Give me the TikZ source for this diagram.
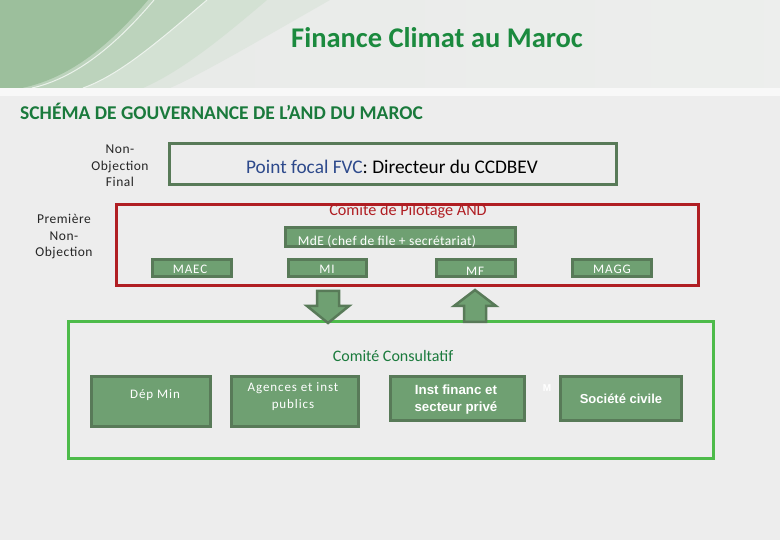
\documentclass[tikz,border=0pt]{standalone}
\usepackage{fontspec}
\setmainfont{Carlito}
\newfontfamily\arialf{Liberation Sans}
\definecolor{bgc}{HTML}{EDEDED}
\definecolor{hdr}{HTML}{E8EAE8}
\definecolor{arcA}{HTML}{9CBF9C}
\definecolor{arcB}{HTML}{BCD3BC}
\definecolor{arcC}{HTML}{D3E1D3}
\definecolor{arcD}{HTML}{DFE6DF}
\definecolor{titlegreen}{HTML}{1B8A3E}
\definecolor{subgreen}{HTML}{1A7A3C}
\definecolor{boxfill}{HTML}{6FA072}
\definecolor{boxdraw}{HTML}{587A58}
\definecolor{redline}{HTML}{B01E23}
\definecolor{greenline}{HTML}{4DBB4A}
\definecolor{blueT}{HTML}{2E4A8C}
\tikzset{
  gbox/.style={draw=boxdraw, fill=boxfill, line width=3pt, inner sep=0pt},
  wtext/.style={text=white, align=center, inner sep=0pt, font=\fontsize{13}{17}\selectfont\addfontfeatures{LetterSpace=7}},
  atext/.style={text=white, align=center, inner sep=0pt, font=\arialf\bfseries\fontsize{13.3}{17}\selectfont},
  side/.style={align=center, inner sep=0pt, text=black!85, font=\fontsize{13.5}{16.5}\selectfont\addfontfeatures{LetterSpace=4}},
  blockarrow/.style={draw=boxdraw, fill=boxfill, line width=2.5pt, line join=miter},
}
\begin{document}
\begin{tikzpicture}[x=1pt,y=-1pt]
\useasboundingbox (0,0) rectangle (780,540);
% background
\fill[bgc] (0,0) rectangle (780,540);
\shade[left color=hdr, right color=hdr!80!white] (0,0) rectangle (780,88);
\fill[arcD] (0,0) -- (330,0) .. controls (260,40) and (200,75) .. (170,88) -- (0,88) -- cycle;
\fill[arcC] (0,0) -- (267,0) .. controls (220,40) and (180,72) .. (143,88) -- (0,88) -- cycle;
\fill[arcB] (0,0) -- (207,0) .. controls (160,40) and (120,75) .. (83,88) -- (0,88) -- cycle;
\fill[arcA] (0,0) -- (148,0) .. controls (110,45) and (70,78) .. (22,88) -- (0,88) -- cycle;
\draw[white!70!arcB, line width=1pt] (154,0) .. controls (116,45) and (76,78) .. (32,88);
\draw[white!60!arcC, line width=1pt] (207,0) .. controls (160,40) and (120,75) .. (83,88);
\fill[white!60!bgc] (0,88) rectangle (780,96);

% titles
\node[text=titlegreen, font=\bfseries\fontsize{28.5}{32}\selectfont] (title) at (437,38) {Finance Climat au Maroc};
\node[anchor=west, text=subgreen, font=\bfseries\fontsize{19.5}{22}\selectfont, inner sep=0pt] (sub) at (20,111) {SCHÉMA DE GOUVERNANCE DE L’AND DU MAROC};

% point focal
\node[draw=boxdraw, line width=3pt, minimum width=447pt, minimum height=41pt, inner sep=0pt] (pf) at (393,164) {};
\node[inner sep=0pt, font=\fontsize{19.3}{22}\selectfont] (pft) at (392,167) {\textcolor{blueT}{Point focal FVC}: Directeur du CCDBEV};
\node[side] (nof) at (120,166) {Non-\\Objection\\Final};

% comite de pilotage
\node[draw=redline, line width=3pt, minimum width=582pt, minimum height=81pt, inner sep=0pt] (cp) at (407.5,245) {};
\node[text=redline, inner sep=0pt, font=\fontsize{16.2}{19}\selectfont] (cpt) at (408,211) {Comité de Pilotage AND};
\node[side] (pno) at (64,237) {Première\\Non-\\Objection};
\node[gbox, minimum width=230pt, minimum height=19pt] (mde) at (400.5,237) {};
\node[wtext, font=\fontsize{13.5}{16}\selectfont\addfontfeatures{LetterSpace=3}] (mdet) at (387,242) {MdE (chef de file + secrétariat)};
\node[gbox, minimum width=79pt, minimum height=17pt] (maec) at (192,268) {};
\node[wtext] (maect) at (190,269) {MAEC};
\node[gbox, minimum width=78pt, minimum height=17pt] (mi) at (327.5,268) {};
\node[wtext] (mit) at (327,269) {MI};
\node[gbox, minimum width=79pt, minimum height=17pt] (mf) at (476,268) {};
\node[wtext] (mft) at (475,271) {MF};
\node[gbox, minimum width=79pt, minimum height=17pt] (magg) at (612,268) {};
\node[wtext] (maggt) at (612,269) {MAGG};

% comite consultatif
\node[draw=greenline, line width=3pt, minimum width=645pt, minimum height=137pt, inner sep=0pt] (cc) at (391,390) {};
\node[text=subgreen, inner sep=0pt, font=\fontsize{16}{19}\selectfont] (cct) at (393,356) {Comité Consultatif};
\node[gbox, minimum width=119pt, minimum height=50pt] (dep) at (151,401.5) {};
\node[wtext] (dept) at (155,395) {Dép Min};
\node[gbox, minimum width=127pt, minimum height=50pt] (ag) at (295,401.5) {};
\node[wtext] (agt) at (293,396.5) {Agences et inst\\publics};
\node[gbox, minimum width=134pt, minimum height=44pt] (inst) at (457.5,398.5) {};
\node[atext] (instt) at (456,399.5) {Inst financ et\\secteur privé};
\node[text=white, inner sep=0pt, font=\arialf\bfseries\fontsize{10}{11}\selectfont] (mlab) at (547,388) {M};
\node[gbox, minimum width=121pt, minimum height=44pt] (soc) at (621,398.5) {};
\node[text=white, inner sep=0pt, font=\arialf\bfseries\fontsize{13}{15}\selectfont] (soct) at (621,399) {Société civile};

% block arrows
\draw[blockarrow] (317,291) -- (339,291) -- (339,306) -- (349,306) -- (328,323) -- (307,306) -- (317,306) -- cycle;
\draw[blockarrow] (475,290) -- (496,306) -- (486,306) -- (486,322) -- (464,322) -- (464,306) -- (454,306) -- cycle;
\end{tikzpicture}
\end{document}
